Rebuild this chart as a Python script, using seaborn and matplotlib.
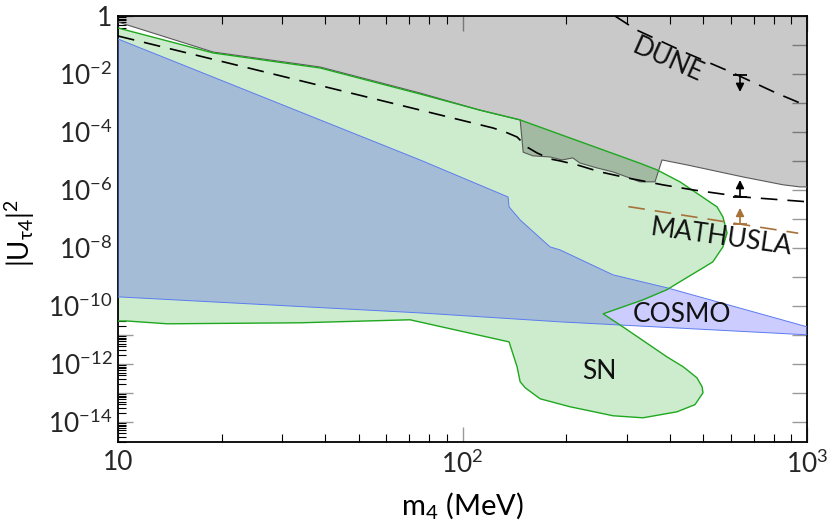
import numpy as np
import matplotlib
matplotlib.use('Agg')
import matplotlib.pyplot as plt
from matplotlib.ticker import LogLocator, FuncFormatter, NullFormatter, FixedLocator
import seaborn as sns

sns.set_theme(style='ticks')
plt.rcParams['font.family'] = ['Lato', 'DejaVu Sans']
plt.rcParams['mathtext.fontset'] = 'custom'
plt.rcParams['mathtext.rm'] = 'Lato'
plt.rcParams['mathtext.it'] = 'Lato'
plt.rcParams['mathtext.sf'] = 'Lato'
plt.rcParams['mathtext.fallback'] = 'stixsans'

# --- datos (m4 en MeV, |U|^2) ---
# region gris excluida: borde inferior
gray_m = [10, 18.9, 38.6, 75.3, 112, 147, 150, 160, 179.5, 194.5, 209, 219, 246,
          273, 300, 327, 362, 379.5, 448, 652, 852, 954, 1000]
gray_u = [0.62, 0.057, 0.0174, 2.2e-3, 5.7e-4, 2.6e-4, 2.0e-5, 1.5e-5, 1.37e-5,
          1.08e-5, 1.27e-5, 8.5e-6, 5.7e-6, 4.2e-6, 2.8e-6, 1.9e-6, 1.9e-6,
          1.08e-5, 7.3e-6, 2.8e-6, 1.5e-6, 1.27e-6, 1.27e-6]

# region verde (incluye SN)
green_m = [10, 18.9, 38.6, 75.3, 112, 147, 327.5, 367, 428, 548, 570, 586, 570,
           533, 499, 437, 392, 334, 256, 292, 392, 437, 479, 496, 499, 473, 419,
           334, 273.5, 205, 168, 152, 147, 144, 136.5, 70.4, 33.8, 13.9, 10.6, 10]
green_u = [0.386, 0.053, 0.0161, 2.04e-3, 5.7e-4, 2.59e-4, 8.3e-6, 4.9e-6, 1.89e-6,
           2.6e-7, 1.17e-7, 3.3e-8, 1.08e-8, 3.3e-9, 2.04e-9, 7.9e-10, 3.6e-10,
           1.61e-10, 5.3e-11, 1.89e-11, 1.74e-12, 7.9e-13, 3.3e-13, 1.61e-13,
           1.0e-13, 3.9e-14, 2.2e-14, 1.37e-14, 1.61e-14, 3.3e-14, 6.2e-14,
           1.49e-13, 2.4e-13, 7.9e-13, 5.7e-12, 3.3e-11, 2.6e-11, 2.4e-11,
           3.0e-11, 3.0e-11]

# region azul (incluye COSMO)
blue_m = [10, 75.3, 135.6, 136.5, 147, 179.5, 192, 273.5, 392, 1000, 1000, 192, 75.3, 10]
blue_u = [0.161, 1.08e-5, 5.7e-7, 2.6e-7, 9.2e-8, 1.08e-8, 8.5e-9, 1.17e-9,
          4.2e-10, 1.89e-11, 1.0e-11, 2.8e-11, 5.7e-11, 2.04e-10]

# lineas discontinuas
dune_m = [277, 320, 448, 598, 817, 1000]
dune_u = [1.0, 0.33, 0.052, 0.012, 2.16e-3, 7.9e-4]

dash_m = [10, 75.3, 122.6, 132.9, 144, 154, 164.5, 179.5, 192, 215, 250.6, 300.4,
          382, 467, 652, 1000]
dash_u = [0.204, 5.7e-4, 1.37e-4, 1.0e-4, 6.7e-5, 3.0e-5, 1.89e-5, 1.17e-5, 1.0e-5,
          7.3e-6, 4.2e-6, 2.6e-6, 1.49e-6, 1.0e-6, 5.7e-7, 3.9e-7]

mathusla_m = [303, 943]
mathusla_u = [2.65e-7, 3.2e-8]

# flechas: (m, inicio, punta)
arrow_m = 639
arrows = [(9.2e-3, 2.4e-3, 'black'), (5.7e-7, 2.2e-6, 'black'), (6.7e-8, 2.4e-7, '#a8713a')]

# etiquetas: texto, m, |U|^2, rotacion
labels = [('DUNE', 395, 0.030, -24), ('MATHUSLA', 565, 2.2e-8, -8),
          ('COSMO', 433, 4.9e-11, 0), ('SN', 249.5, 5.4e-13, 0)]

green_fill = '#cdeccd'
green_edge = '#1fa81f'
brown = '#a8713a'

fig = plt.figure(figsize=(8.3, 5.3), dpi=100)
ax = fig.add_axes([0.1422, 0.166, 0.8301, 0.8038])
ax.set_xscale('log')
ax.set_yscale('log')

# rellenos
ax.fill(green_m, green_u, color=green_fill, lw=0, zorder=1)
ax.fill(blue_m, blue_u, color=(0, 0, 1, 0.2), lw=0, zorder=2)
ax.fill(gray_m + [1000, 10], gray_u + [1.0, 1.0], color=(0, 0, 0, 0.21), lw=0, zorder=3)

# bordes
ax.plot(blue_m + blue_m[:1], blue_u + blue_u[:1], color='#5b7bf0', lw=0.7, zorder=4)
ax.plot(gray_m, gray_u, color='#5a5a5a', lw=0.8, zorder=4)
ax.plot(green_m, green_u, color=green_edge, lw=1.0, zorder=5)

# lineas discontinuas
sns.lineplot(x=dune_m, y=dune_u, ax=ax, color='black', lw=1.2, linestyle=(0, (10, 6)),
             sort=False, estimator=None, zorder=6)
sns.lineplot(x=dash_m, y=dash_u, ax=ax, color='black', lw=1.2, linestyle=(0, (10, 6)),
             sort=False, estimator=None, zorder=6)
sns.lineplot(x=mathusla_m, y=mathusla_u, ax=ax, color=brown, lw=1.2, linestyle=(0, (10, 6)),
             sort=False, estimator=None, zorder=6)

for start, tip, col in arrows:
    ax.annotate('', xy=(arrow_m, tip), xytext=(arrow_m, start),
                arrowprops=dict(arrowstyle='-|>', color=col, lw=1.2, mutation_scale=12,
                                shrinkA=0, shrinkB=0), zorder=7)
    ax.plot([arrow_m], [start], marker='_', ms=10, mew=1.3, color=col, zorder=7)

for txt, m, u, rot in labels:
    ax.text(m, u, txt, rotation=rot, ha='center', va='center', fontsize=19,
            rotation_mode='anchor', color='#111111', zorder=8)

ax.set_xlim(10, 1000)
ax.set_ylim(2e-15, 1)

# ejes y marcas
ax.xaxis.set_major_locator(FixedLocator([10, 100, 1000]))
ax.xaxis.set_major_formatter(FuncFormatter(
    lambda v, p: '10' if v < 50 else r'$10^{%d}$' % round(np.log10(v))))
ax.xaxis.set_minor_locator(LogLocator(base=10, subs=np.arange(2, 10), numticks=20))
ax.xaxis.set_minor_formatter(NullFormatter())


def fmt_y(v, p):
    e = int(round(np.log10(v)))
    if e == 0:
        return '1'
    if e % 2:
        return ''
    return r'$10^{%d}$' % e


ax.yaxis.set_major_locator(LogLocator(base=10, numticks=30))
ax.yaxis.set_major_formatter(FuncFormatter(fmt_y))
ax.yaxis.set_minor_locator(LogLocator(base=10, subs=np.arange(2, 10), numticks=30))
ax.yaxis.set_minor_formatter(NullFormatter())

ax.tick_params(which='both', direction='in', top=True, right=True, labelsize=19)
ax.tick_params(which='major', length=11, width=1.0, color='#999999', pad=6)
ax.tick_params(which='minor', length=6, width=0.8, color='black')
ax.tick_params(axis='y', which='minor', right=False)
ax.tick_params(axis='y', which='major', right=True)
ax.tick_params(axis='y', pad=4)

for s in ax.spines.values():
    s.set_color('black')
    s.set_linewidth(1.3)

ax.set_xlabel(r'm$_4$ (MeV)', fontsize=21, color='black')
ax.set_ylabel(r'$|\mathrm{U}_{\tau 4}|^2$', fontsize=20, color='black')
ax.xaxis.set_label_coords(0.5, -0.112)
ax.yaxis.set_label_coords(-0.118, 0.49)

fig.savefig('out.png', dpi=100)
